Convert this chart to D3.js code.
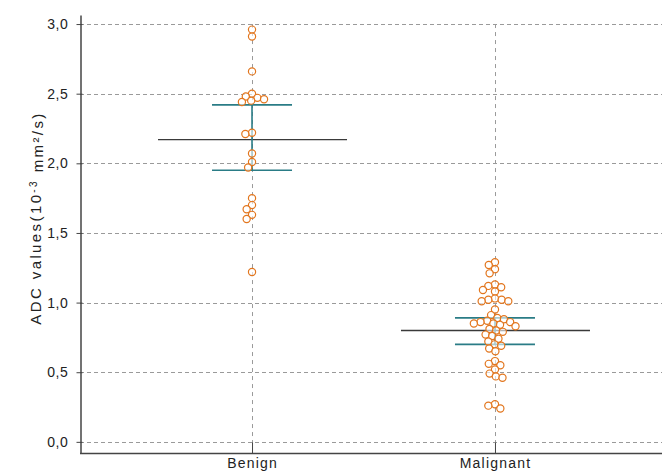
<!DOCTYPE html>
<html>
<head>
<meta charset="utf-8">
<script src="https://cdn.jsdelivr.net/npm/d3@7"></script>
<style>
	body { margin: 0; background: #fff; }
	svg { display: block; font-family: "Liberation Sans", Arial, sans-serif; }
</style>
</head>
<body>
<main></main>
<script>
// groups on the x axis
const groups = ["Benign", "Malignant"];

// ADC values (10^-3 mm²/s)
const benignValues = [2.96, 2.91, 2.66, 2.50, 2.48, 2.47, 2.46, 2.45, 2.44, 2.22, 2.21,
	2.07, 2.01, 1.97, 1.75, 1.70, 1.67, 1.63, 1.60, 1.22];
const malignantValues = [1.29, 1.27, 1.24, 1.21, 1.13, 1.12, 1.11, 1.09, 1.08, 1.03, 1.02,
	1.02, 1.01, 1.01, 0.95, 0.91, 0.89, 0.88, 0.87, 0.86, 0.86, 0.85, 0.85, 0.84, 0.83,
	0.81, 0.80, 0.79, 0.77, 0.76, 0.74, 0.72, 0.70, 0.69, 0.67, 0.65, 0.58, 0.56, 0.55,
	0.52, 0.49, 0.47, 0.46, 0.27, 0.26, 0.24];

// summary lines per group: mean, lower and upper bar
const means = [2.17, 0.80];
const lowerBars = [1.95, 0.70];
const upperBars = [2.42, 0.89];

const yTicks = [0, 0.5, 1.0, 1.5, 2.0, 2.5, 3.0];

function dotPlot() {
	const width = 662;
	const height = 475;
	const radius = 3.6;

	const svg = d3.select("main")
		.append("svg")
		.attr("width", width)
		.attr("height", height);

	const xScale = d3.scalePoint()
		.domain(groups)
		.range([80, 667])
		.padding(0.708);

	const yScale = d3.scaleLinear()
		.domain([-0.08, 3.065])
		.range([453, 15]);

	const fmt = d => d3.format(".1f")(d).replace(".", ",");

	// horizontal grid
	svg.append("g")
		.selectAll("line")
		.data(yTicks)
		.enter()
		.append("line")
		.attr("x1", 80)
		.attr("x2", width)
		.attr("y1", d => Math.round(yScale(d)) + 0.5)
		.attr("y2", d => Math.round(yScale(d)) + 0.5)
		.attr("stroke", "#9a9a9a")
		.attr("stroke-dasharray", "4,3");

	// vertical grid through each group
	svg.append("g")
		.selectAll("line")
		.data(groups)
		.enter()
		.append("line")
		.attr("x1", d => Math.round(xScale(d)) + 0.5)
		.attr("x2", d => Math.round(xScale(d)) + 0.5)
		.attr("y1", yScale(3.0))
		.attr("y2", yScale(-0.08))
		.attr("stroke", "#9a9a9a")
		.attr("stroke-dasharray", "4,4");

	// y axis
	const yAxis = svg.append("g")
		.attr("transform", "translate(80.5,0)")
		.call(d3.axisLeft(yScale).tickValues(yTicks).tickFormat(fmt).tickSize(4).tickSizeOuter(0).tickPadding(8));
	yAxis.selectAll("line").attr("stroke", "#444").attr("x2", -4).attr("x1", 2);
	yAxis.select(".domain").attr("stroke", "#444").attr("stroke-width", 1.5);
	yAxis.selectAll("text").attr("fill", "#222").style("font-size", "14px").style("letter-spacing", "0.6px");

	// x axis, ticks point inwards
	const xAxis = svg.append("g")
		.attr("transform", "translate(0,453.5)")
		.call(d3.axisBottom(xScale).tickSize(-11).tickSizeOuter(0));
	xAxis.select(".domain").attr("stroke", "#444").attr("stroke-width", 1.5)
		.attr("d", `M80,0H${width}`);
	xAxis.selectAll("line").attr("stroke", "#444");
	xAxis.selectAll("text").attr("fill", "#222").style("font-size", "14px").style("letter-spacing", "1.2px")
		.attr("y", 4.5).attr("dy", "0.71em");

	// y axis label with superscripts
	const yLabel = svg.append("text")
		.attr("transform", "translate(41,218) rotate(-90)")
		.attr("text-anchor", "middle")
		.attr("fill", "#222")
		.style("font-size", "15px")
		.style("letter-spacing", "2.4px");
	yLabel.append("tspan").text("ADC values(10");
	yLabel.append("tspan").attr("dy", "-0.45em").style("font-size", "10px").text("-3");
	yLabel.append("tspan").attr("dy", "0.45em").text(" mm²/s)");

	// mean and bar lines
	const summary = groups.map((g, i) => ({ g: g, mean: means[i], lo: lowerBars[i], hi: upperBars[i] }));
	const sumG = svg.append("g");
	sumG.selectAll(".mean")
		.data(summary)
		.enter()
		.append("line")
		.attr("class", "mean")
		.attr("x1", d => xScale(d.g) - 94)
		.attr("x2", d => xScale(d.g) + 95)
		.attr("y1", d => yScale(d.mean))
		.attr("y2", d => yScale(d.mean))
		.attr("stroke", "#3a3a3a")
		.attr("stroke-width", 1.4);
	sumG.selectAll(".bar-lo")
		.data(summary)
		.enter()
		.append("line")
		.attr("x1", d => xScale(d.g) - 40)
		.attr("x2", d => xScale(d.g) + 40)
		.attr("y1", d => yScale(d.lo))
		.attr("y2", d => yScale(d.lo))
		.attr("stroke", "#2a7c86")
		.attr("stroke-width", 1.6);
	sumG.selectAll(".bar-hi")
		.data(summary)
		.enter()
		.append("line")
		.attr("x1", d => xScale(d.g) - 40)
		.attr("x2", d => xScale(d.g) + 40)
		.attr("y1", d => yScale(d.hi))
		.attr("y2", d => yScale(d.hi))
		.attr("stroke", "#2a7c86")
		.attr("stroke-width", 1.6);
	sumG.selectAll(".bar-v")
		.data(summary)
		.enter()
		.append("line")
		.attr("x1", d => xScale(d.g))
		.attr("x2", d => xScale(d.g))
		.attr("y1", d => yScale(d.lo))
		.attr("y2", d => yScale(d.hi))
		.attr("stroke", "#2a7c86")
		.attr("stroke-width", 1.6);

	// points, spread sideways so they do not pile up
	const allValues = [benignValues, malignantValues];
	const points = [];
	groups.forEach((g, i) => {
		swarm(allValues[i].map(v => yScale(v)), 6.8).forEach(p => {
			points.push({ x: xScale(g) + p.dx, y: p.y });
		});
	});

	svg.append("g")
		.selectAll("circle")
		.data(points)
		.enter()
		.append("circle")
		.attr("cx", d => d.x)
		.attr("cy", d => d.y)
		.attr("r", radius)
		.attr("fill", "#fff")
		.attr("fill-opacity", 0.6)
		.attr("stroke", "#e2761e")
		.attr("stroke-width", 1.2);
}

// simple beeswarm: each point takes the free x offset closest to the centre
function swarm(ys, dist) {
	const placed = [];
	ys.forEach(y => {
		const near = placed.filter(p => Math.abs(p.y - y) < dist);
		const candidates = [0];
		near.forEach(p => {
			const w = Math.sqrt(dist * dist - (p.y - y) * (p.y - y));
			candidates.push(p.dx - w, p.dx + w);
		});
		candidates.sort((a, b) => Math.abs(a) - Math.abs(b));
		let dx = 0;
		for (const c of candidates) {
			const ok = near.every(p => (p.dx - c) ** 2 + (p.y - y) ** 2 >= dist * dist - 0.01);
			if (ok) { dx = c; break; }
		}
		placed.push({ y: y, dx: dx });
	});
	return placed;
}

dotPlot();
</script>
</body>
</html>
